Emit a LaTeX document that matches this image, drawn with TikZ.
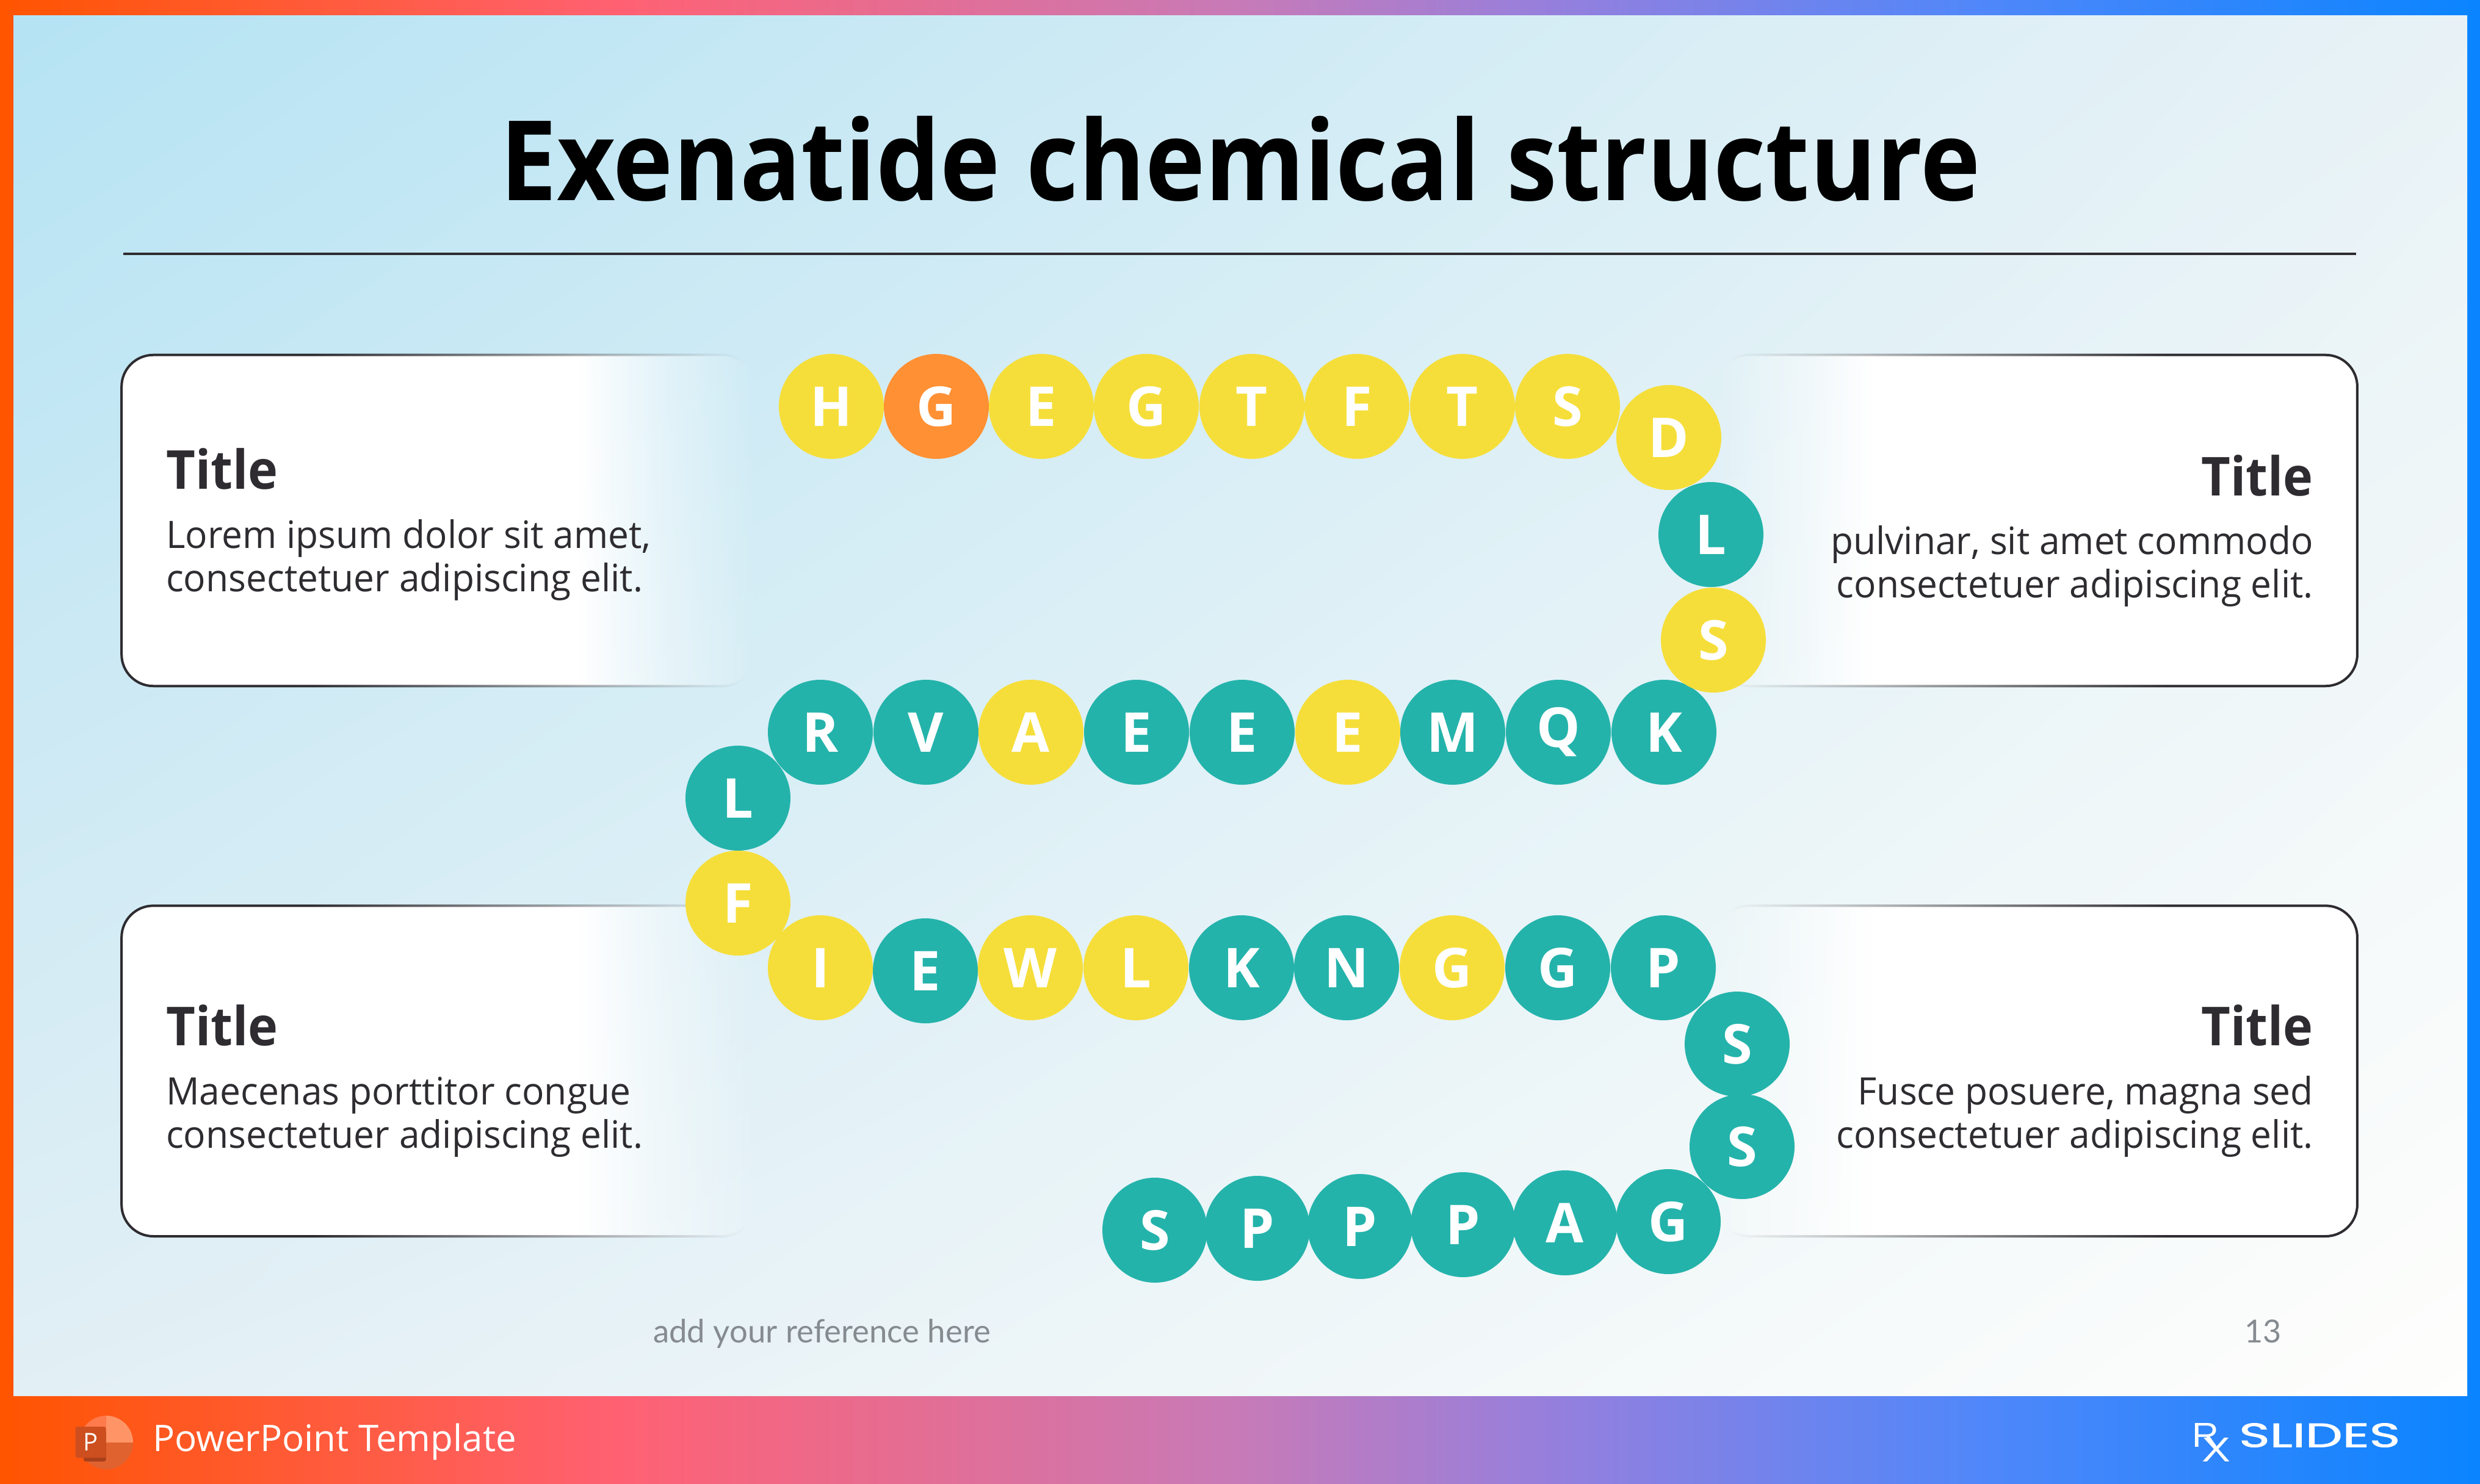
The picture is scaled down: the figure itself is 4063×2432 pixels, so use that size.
\documentclass[tikz,border=0pt]{standalone}
\usepackage{fontspec}
\usepackage{graphicx}
\usetikzlibrary{fadings,shadings}
\setmainfont{Open Sans}
\newfontfamily\reffont{Lato}
\newfontfamily\logofont[FakeBold=1.5]{Poppins}
\definecolor{aaY}{HTML}{F6DE3A}
\definecolor{aaT}{HTML}{24B3AB}
\definecolor{aaO}{HTML}{FF9033}
\definecolor{ink}{HTML}{2E2C30}
\definecolor{refgray}{HTML}{858B90}
\definecolor{bgTL}{HTML}{B5E3F3}
\definecolor{bgTR}{HTML}{E8F2F6}
\definecolor{bgBL}{HTML}{E2EFF5}
\definecolor{bgBR}{HTML}{FEFEFC}
\definecolor{frameO}{HTML}{FF5400}
\definecolor{frameB}{HTML}{0A84FF}
\definecolor{pptA}{HTML}{E0622F}
\definecolor{pptB}{HTML}{FF7A4D}
\definecolor{pptC}{HTML}{FF9566}
\definecolor{pptD}{HTML}{A8401C}
\definecolor{pptE}{HTML}{CD4E1E}
\pgfdeclarehorizontalshading{barg}{100bp}{
  rgb(0bp)=(1,.33,0); rgb(25bp)=(1,.33,0); rgb(37.5bp)=(1,.38,.45); rgb(50bp)=(.78,.48,.72); rgb(56.5bp)=(.58,.50,.87); rgb(65bp)=(.31,.53,.98); rgb(75bp)=(.04,.52,1); rgb(100bp)=(.04,.52,1)}
\pgfdeclarehorizontalshading{fillL}{100bp}{rgb(0bp)=(1,1,1); rgb(61bp)=(1,1,1); rgb(67.5bp)=(.45,.45,.45); rgb(75bp)=(0,0,0); rgb(100bp)=(0,0,0)}
\pgfdeclarehorizontalshading{fillR}{100bp}{rgb(0bp)=(0,0,0); rgb(25bp)=(0,0,0); rgb(31.5bp)=(.45,.45,.45); rgb(37bp)=(1,1,1); rgb(100bp)=(1,1,1)}
\pgfdeclarehorizontalshading{lineL}{100bp}{rgb(0bp)=(1,1,1); rgb(40bp)=(1,1,1); rgb(74bp)=(0,0,0); rgb(100bp)=(0,0,0)}
\pgfdeclarehorizontalshading{lineR}{100bp}{rgb(0bp)=(0,0,0); rgb(26bp)=(0,0,0); rgb(60bp)=(1,1,1); rgb(100bp)=(1,1,1)}
\pgfdeclarefading{ffillL}{\pgfuseshading{fillL}}
\pgfdeclarefading{ffillR}{\pgfuseshading{fillR}}
\pgfdeclarefading{flineL}{\pgfuseshading{lineL}}
\pgfdeclarefading{flineR}{\pgfuseshading{lineR}}
\newcommand{\fs}[2]{\fontsize{#1}{#2}\selectfont}
\newcommand{\lefttwo}[2]{\scalebox{.975}[1]{\begin{tabular}[b]{@{}l@{}}#1\\#2\end{tabular}}}
\newcommand{\righttwo}[2]{\scalebox{.975}[1]{\begin{tabular}[b]{@{}r@{}}#1\\#2\end{tabular}}}
\tikzset{
  x=1pt,y=-1pt,
  aa/.style={circle,minimum size=172pt,inner sep=0pt,text=white,font=\fs{90}{90}\bfseries,fill=#1},
  ttl/.style={inner sep=0pt,text=ink,font=\fs{88}{88}\bfseries},
  bdy/.style={inner sep=0pt,text=ink,font=\fs{62}{71}},
  boxfill/.style={fill=white,rounded corners=52pt},
  boxline/.style={draw=ink,line width=4pt,rounded corners=52pt},
}
\begin{document}
\begin{tikzpicture}
\useasboundingbox (0,0) rectangle (4063,2432);
% page frame
\path[shading=barg] (0,0) rectangle (4063,26);
\path[shading=barg] (0,2287) rectangle (4063,2432);
\fill[frameO] (0,0) rectangle (22,2432);
\fill[frameB] (4042,0) rectangle (4063,2432);
% background
\shade[upper left=bgTL,upper right=bgTR,lower left=bgBL,lower right=bgBR] (22,26) rectangle (4042,2287);
% title
\node[inner sep=0pt,anchor=base,text=black,font=\fs{182}{182}\bfseries] (maintitle) at (2032,328) {\scalebox{.913}[1]{Exenatide chemical structure}};
\draw[ink,line width=4pt] (202,416) -- (3860,416);
% boxes
\path[boxfill,path fading=ffillL] (200,581) rectangle (1238,1124);
\path[boxline,path fading=flineL] (200,581) rectangle (1238,1124);
\path[boxfill,path fading=ffillL] (200,1484) rectangle (1238,2026);
\path[boxline,path fading=flineL] (200,1484) rectangle (1238,2026);
\path[boxfill,path fading=ffillR] (2815,581) rectangle (3864,1124);
\path[boxline,path fading=flineR] (2815,581) rectangle (3864,1124);
\path[boxfill,path fading=ffillR] (2815,1484) rectangle (3864,2026);
\path[boxline,path fading=flineR] (2815,1484) rectangle (3864,2026);
% box texts
\node[ttl,anchor=base west] (t1) at (272,801) {\scalebox{.94}[1]{Title}};
\node[bdy,anchor=base west] (b1) at (272,969) {\lefttwo{Lorem ipsum dolor sit amet,}{consectetuer adipiscing elit.}};
\node[ttl,anchor=base east] (t2) at (3790,812) {\scalebox{.94}[1]{Title}};
\node[bdy,anchor=base east] (b2) at (3790,979) {\righttwo{pulvinar, sit amet commodo}{consectetuer adipiscing elit.}};
\node[ttl,anchor=base west] (t3) at (272,1713) {\scalebox{.94}[1]{Title}};
\node[bdy,anchor=base west] (b3) at (272,1881) {\lefttwo{Maecenas porttitor congue}{consectetuer adipiscing elit.}};
\node[ttl,anchor=base east] (t4) at (3790,1713) {\scalebox{.94}[1]{Title}};
\node[bdy,anchor=base east] (b4) at (3790,1881) {\righttwo{Fusce posuere, magna sed}{consectetuer adipiscing elit.}};
% bottom chain
\node[aa=aaT] (a39) at (1892,2016) {S};
\node[aa=aaT] (a38) at (2060,2013) {P};
\node[aa=aaT] (a37) at (2228,2010) {P};
\node[aa=aaT] (a36) at (2397,2007) {P};
\node[aa=aaT] (a35) at (2564,2004) {A};
\node[aa=aaT] (a34) at (2733,2002) {G};
\node[aa=aaT] (a33) at (2854,1879) {S};
\node[aa=aaT] (a32) at (2846,1711) {S};
\node[aa=aaT] (a31) at (2725,1586) {P};
\node[aa=aaT] (a30) at (2552,1586) {G};
\node[aa=aaY] (a29) at (2379,1586) {G};
\node[aa=aaT] (a28) at (2206,1586) {N};
\node[aa=aaT] (a27) at (2034,1586) {K};
\node[aa=aaY] (a26) at (1861,1586) {L};
\node[aa=aaY] (a25) at (1688,1586) {W};
\node[aa=aaT] (a24) at (1516,1591) {E};
\node[aa=aaY] (a23) at (1344,1586) {I};
\node[aa=aaY] (a22) at (1209,1480) {F};
% middle row
\node[aa=aaT] (a20) at (1344,1200) {R};
\node[aa=aaT] (a19) at (1517,1200) {V};
\node[aa=aaY] (a18) at (1689,1200) {A};
\node[aa=aaT] (a17) at (1862,1200) {E};
\node[aa=aaT] (a16) at (2035,1200) {E};
\node[aa=aaY] (a15) at (2208,1200) {E};
\node[aa=aaT] (a14) at (2380,1200) {M};
\node[aa=aaT] (a13) at (2553,1200) {Q};
\node[aa=aaT] (a12) at (2726,1200) {K};
\node[aa=aaT] (a21) at (1209,1308) {L};
\node[aa=aaY] (a11) at (2807,1049) {S};
% top row
\node[aa=aaY] (a1) at (1362,666) {H};
\node[aa=aaO] (a2) at (1534,666) {G};
\node[aa=aaY] (a3) at (1706,666) {E};
\node[aa=aaY] (a4) at (1878,666) {G};
\node[aa=aaY] (a5) at (2051,666) {T};
\node[aa=aaY] (a6) at (2223,666) {F};
\node[aa=aaY] (a7) at (2396,666) {T};
\node[aa=aaY] (a8) at (2568,666) {S};
\node[aa=aaY] (a9) at (2734,717) {D};
\node[aa=aaT] (a10) at (2803,876) {L};
% footer notes
\node[inner sep=0pt,anchor=base west,text=refgray,font=\fs{52.7}{53}\reffont] (ref) at (1070,2200) {add your reference here};
\node[inner sep=0pt,anchor=base west,text=refgray,font=\fs{52}{52}\reffont] (page) at (3677,2200) {13};
\node[inner sep=0pt,anchor=base west,text=white,font=\fs{60}{60}] (brand) at (250,2378) {PowerPoint Template};
% powerpoint icon
\begin{scope}
\clip (174,2364) circle (44);
\fill[pptA] (130,2364) rectangle (218,2408);
\fill[pptB] (130,2320) rectangle (174,2364);
\fill[pptC] (174,2320) rectangle (218,2364);
\end{scope}
\fill[pptD,rounded corners=3pt] (137,2345) rectangle (173.5,2395);
\node[fill=pptE,rounded corners=3pt,minimum width=50pt,minimum height=51pt,inner sep=0pt,text=white,font=\fs{40}{40}] (ppicon) at (148.5,2363.5) {P};
% logo
\node[inner sep=0pt,anchor=south west,text=white] (logoR) at (3591,2372) {\resizebox{44pt}{39pt}{\fontspec{Liberation Sans}R}};
\node[inner sep=0pt,anchor=south west,text=white] (logoX) at (3607,2396) {\resizebox{47pt}{39pt}{\fontspec{Liberation Sans}X}};
\node[inner sep=0pt,anchor=south west,text=white] (logoS) at (3668,2372) {\resizebox{264pt}{39pt}{\logofont SLIDES}};
\end{tikzpicture}
\end{document}
